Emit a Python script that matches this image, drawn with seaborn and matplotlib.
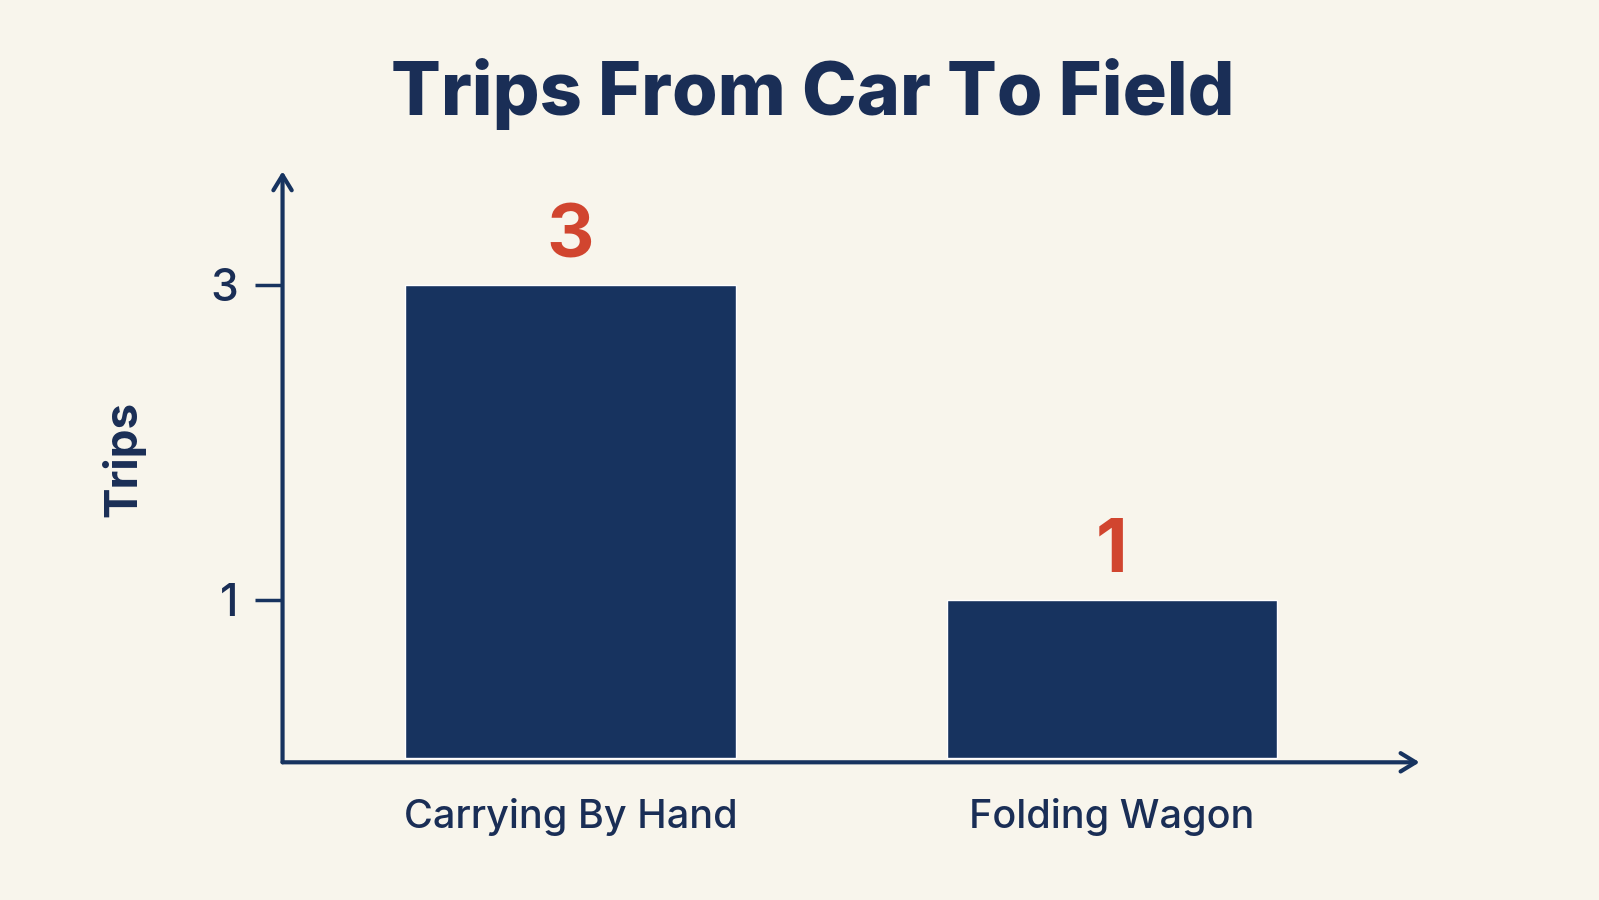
import pandas as pd
import seaborn as sns
import matplotlib.pyplot as plt

methods = ["Carrying By Hand", "Folding Wagon"]
trips = [3, 1]
ytick_vals = [1, 3]

navy = "#17335F"
text_navy = "#1A2E56"
red = "#D1452F"
bg = "#F8F5EC"

sns.set_theme(style="white")
plt.rcParams['font.family'] = ['Inter', 'DejaVu Sans']

df = pd.DataFrame({"Method": methods, "Trips": trips})

fig = plt.figure(figsize=(15.99, 9), dpi=100, facecolor=bg)
ax = fig.add_axes([0.1767, 0.153, 0.7111, 0.6567])
ax.set_facecolor(bg)

sns.barplot(data=df, x="Method", y="Trips", color=navy, width=0.61,
            saturation=1, ax=ax)

for i, v in enumerate(trips):
    ax.text(i, v + 0.08, str(v), ha="center", va="bottom", color=red,
            fontsize=53, fontweight="bold")

ax.set_xlim(-0.532, 1.569)
ax.set_ylim(-0.03, 3.72)

for s in ax.spines.values():
    s.set_visible(False)

# axis arrows
arrow = dict(arrowstyle="->,head_length=0.9,head_width=0.55",
             color=navy, lw=3, shrinkA=0, shrinkB=0)
ax.annotate("", xy=(0, 1), xytext=(0, 0), xycoords="axes fraction", arrowprops=arrow)
ax.annotate("", xy=(1, 0), xytext=(0, 0), xycoords="axes fraction", arrowprops=arrow)

ax.set_yticks(ytick_vals)
ax.set_yticklabels([str(v) for v in ytick_vals], fontweight="medium")
ax.tick_params(axis="y", length=20, width=2.5, color=navy, left=True,
               labelsize=32, labelcolor=text_navy, pad=12)
ax.set_xticks(range(len(methods)))
ax.set_xticklabels(methods, fontweight="medium")
ax.tick_params(axis="x", length=0, labelsize=28.5, labelcolor=text_navy, pad=26)

ax.set_xlabel("")
ax.set_ylabel("Trips", fontsize=33, color=text_navy, fontweight="bold")
ax.yaxis.set_label_coords(-0.121, 0.514)

fig.text(0.508, 0.895, "Trips From Car To Field", fontsize=53,
         fontweight="heavy", color=text_navy, ha="center", va="center")

plt.savefig("out.png", dpi=100, facecolor=bg)
